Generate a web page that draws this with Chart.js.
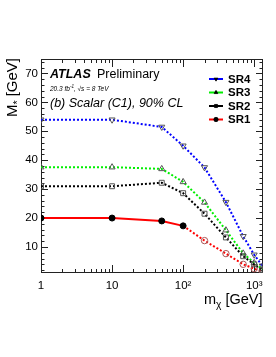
<!DOCTYPE html>
<html><head><meta charset="utf-8">
<script src="https://cdn.jsdelivr.net/npm/chart.js@4.4.1/dist/chart.umd.min.js"></script>
<style>html,body{margin:0;padding:0;background:#fff;}#wrap{width:276px;height:357px;position:relative;}</style>
</head><body><div id="wrap"><canvas id="c" width="276" height="357"></canvas></div>
<script>
const masses = [1, 10, 50, 100, 200, 400, 700, 1000, 1300];
const sr4 = [54, 54, 51.5, 45, 37.5, 25.5, 13.7, 7.3, 3.5];
const sr3 = [37.6, 37.6, 37, 32.5, 25.4, 15.8, 7.8, 4.5, 2.3];
const sr2 = [31, 31, 32.2, 28.6, 21.5, 13.3, 6.8, 4.0, 2.0];
const sr1 = [20, 20, 19, 17.3, 12.2, 7.7, 4.0, 2.5, 1.5];
const seriesNames = ['SR4', 'SR3', 'SR2', 'SR1'];
const xTickValues = [1, 10, 100, 1000];
const xTickLabels = ['1', '10', '10²', '10³'];
const yTickValues = [10, 20, 30, 40, 50, 60, 70];

const FONT = '"Liberation Sans", Arial, Helvetica, sans-serif';
const OPEN = 'rgba(255,255,255,0)';

function ds(label, values, color, style, rot) {
  return {
    label, data: masses.map((m, i) => ({x: m, y: values[i]})),
    borderColor: color, borderWidth: 2, borderDash: [2, 2],
    pointStyle: style, pointRotation: rot || 0, pointRadius: 3.5,
    pointBorderWidth: 1, pointBorderColor: '#555', pointBackgroundColor: OPEN,
    tension: 0, fill: false
  };
}
const dSR4 = ds(seriesNames[0], sr4, '#0000ff', 'triangle', 180);
const dSR3 = ds(seriesNames[1], sr3, '#00ee00', 'triangle', 0);
const dSR2 = ds(seriesNames[2], sr2, '#000000', 'rect', 0);
const dSR1 = ds(seriesNames[3], sr1, '#ff0000', 'circle', 0);
dSR1.borderDash = [];
dSR1.segment = {borderDash: c => c.p0.parsed.x >= 100 ? [2, 2] : undefined};
dSR1.pointBackgroundColor = masses.map(m => m <= 100 ? '#000' : OPEN);
dSR1.pointBorderColor = masses.map(m => m <= 100 ? '#000' : '#a55');
dSR1.pointRadius = masses.map(m => m <= 100 ? 3 : 3.2);

function subText(ctx, parts, x, y, size) {
  let cx = x;
  for (const [t, mode] of parts) {
    const s = mode ? size * 0.7 : size;
    ctx.font = (ctx._style || '') + ' ' + s + 'px ' + FONT;
    const dy = mode === 1 ? size * 0.25 : mode === 2 ? -size * 0.4 : 0;
    ctx.fillText(t, cx, y + dy);
    cx += ctx.measureText(t).width;
  }
  return cx - x;
}
function measureParts(ctx, parts, size) {
  let w = 0;
  for (const [t, mode] of parts) {
    ctx.font = (ctx._style || '') + ' ' + (mode ? size * 0.7 : size) + 'px ' + FONT;
    w += ctx.measureText(t).width;
  }
  return w;
}

const deco = {
  id: 'deco',
  beforeDatasetsDraw(chart) {
    const {ctx, chartArea: a, scales: {x, y}} = chart;
    ctx.save();
    ctx.strokeStyle = '#222';
    ctx.lineWidth = 1;
    ctx.beginPath();
    for (let d = 0; d <= 3; d++) {
      for (let k = 1; k <= 9; k++) {
        const v = k * Math.pow(10, d);
        if (v > x.max) break;
        const px = Math.round(x.getPixelForValue(v)) + 0.5;
        const L = k === 1 ? 8 : 4;
        ctx.moveTo(px, a.bottom); ctx.lineTo(px, a.bottom - L);
        ctx.moveTo(px, a.top); ctx.lineTo(px, a.top + L);
      }
    }
    for (let v = 2; v <= 74; v += 2) {
      const py = Math.round(y.getPixelForValue(v)) + 0.5;
      const L = v % 10 === 0 ? 7 : 3.5;
      ctx.moveTo(a.left, py); ctx.lineTo(a.left + L, py);
      ctx.moveTo(a.right, py); ctx.lineTo(a.right - L, py);
    }
    ctx.stroke();
    ctx.strokeRect(a.left + 0.5, a.top + 0.5, a.right - a.left - 1, a.bottom - a.top - 1);
    ctx.restore();
  },
  afterDraw(chart) {
    const {ctx} = chart;
    ctx.save();
    ctx.fillStyle = '#000';
    ctx.textBaseline = 'alphabetic';
    ctx.textAlign = 'left';
    ctx.font = 'italic bold 12.5px ' + FONT;
    ctx.fillText('ATLAS', 50, 77.5);
    ctx.font = '12.5px ' + FONT;
    ctx.fillText('Preliminary', 97, 77.5);
    ctx._style = 'italic';
    subText(ctx, [['20.3 fb', 0], ['-1', 2], [', \u221As = 8 TeV', 0]], 50, 90.5, 6.5);
    ctx._style = '';
    ctx.font = 'italic 12.5px ' + FONT;
    ctx.fillText('(b) Scalar (C1), 90% CL', 50, 106.5);
    const ly = [79, 92.5, 106, 119.5];
    const legendDs = [dSR4, dSR3, dSR2, dSR1];
    legendDs.forEach((d, i) => {
      const yy = ly[i];
      ctx.strokeStyle = d.borderColor;
      ctx.lineWidth = 2;
      ctx.setLineDash([]);
      ctx.beginPath(); ctx.moveTo(209, yy); ctx.lineTo(223, yy); ctx.stroke();
      ctx.fillStyle = '#000';
      ctx.strokeStyle = '#000';
      ctx.lineWidth = 0.5;
      Chart.helpers.drawPoint(ctx, {pointStyle: d.pointStyle, rotation: d.pointRotation, radius: 2.2, borderWidth: 0.5}, 216, yy);
      ctx.fill();
      ctx.fillStyle = '#000';
      ctx.font = 'bold 11.5px ' + FONT;
      ctx.textBaseline = 'middle';
      ctx.fillText(d.label, 228, yy + 0.5);
      ctx.textBaseline = 'alphabetic';
    });
    ctx.save();
    ctx.translate(17, 58);
    ctx.rotate(-Math.PI / 2);
    const yParts = [['M', 0], ['*', 1], [' [GeV]', 0]];
    const yw = measureParts(ctx, yParts, 15);
    subText(ctx, yParts, -yw, 0, 15);
    ctx.restore();
    const xParts = [['m', 0], ['\u03C7', 1], [' [GeV]', 0]];
    const xw = measureParts(ctx, xParts, 14.5);
    subText(ctx, xParts, 262.5 - xw, 304, 14.5);
    ctx.restore();
  }
};

new Chart(document.getElementById('c'), {
  type: 'line',
  data: {datasets: [dSR2, dSR3, dSR4, dSR1]},
  options: {
    responsive: false, animation: false, devicePixelRatio: 1,
    layout: {padding: {left: 0, top: 59, right: 13, bottom: 0}},
    plugins: {legend: {display: false}, tooltip: {enabled: false}},
    scales: {
      x: {
        type: 'logarithmic', min: 1, max: 1330, position: 'bottom',
        grid: {display: false, drawTicks: false}, border: {display: false},
        afterBuildTicks: s => { s.ticks = xTickValues.map(v => ({value: v})); },
        afterFit: s => { s.height = 84; },
        ticks: {
          autoSkip: false, maxRotation: 0, padding: 6, color: '#000',
          font: {family: FONT, size: 11.5},
          callback: v => { const i = xTickValues.indexOf(v); return i >= 0 ? xTickLabels[i] : ''; }
        }
      },
      y: {
        type: 'linear', min: 1, max: 75, position: 'left',
        grid: {display: false, drawTicks: false}, border: {display: false},
        afterBuildTicks: s => { s.ticks = yTickValues.map(v => ({value: v})); },
        afterFit: s => { s.width = 41; },
        ticks: {padding: 3, color: '#000', font: {family: FONT, size: 11.5}}
      }
    }
  },
  plugins: [deco]
});
</script></body></html>
